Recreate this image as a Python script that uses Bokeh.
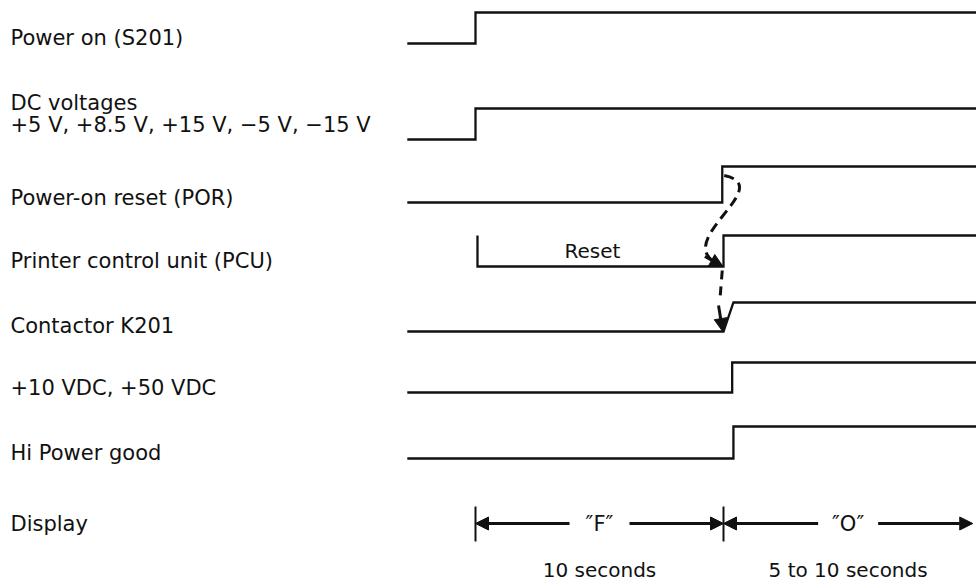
from bokeh.plotting import figure
from bokeh.models import Range1d, Arrow, NormalHead, ColumnDataSource
from bokeh.core.properties import value
from bokeh.embed import file_html
from bokeh.resources import INLINE

# ---------------- data (time in seconds, power switched on at t = 0) -------------
signals = ["Power on (S201)", "DC voltages", "Power-on reset (POR)",
           "Printer control unit (PCU)", "Contactor K201",
           "+10 VDC, +50 VDC", "Hi Power good"]
signal_sublabel = ["", "+5 V, +8.5 V, +15 V, \u22125 V, \u221215 V", "", "", "", "", ""]
start_time = [-2.75, -2.75, -2.75, 0.08, -2.75, -2.75, -2.75]
start_level = [0, 0, 0, 1, 0, 0, 0]
rise_time = [0.0, 0.0, 9.95, 10.0, 10.0, 10.35, 10.4]
rise_duration = [0.0, 0.0, 0.0, 0.0, 0.4, 0.0, 0.0]
end_time = 20.5

reset_label = "Reset"
display_label = "Display"
display_codes = ["\u2033F\u2033", "\u2033O\u2033"]
display_start = [0.0, 10.0]
display_end = [10.0, 20.05]
display_duration = ["10 seconds", "5 to 10 seconds"]

# ---------------- layout (pixels from the picture's top-left) ----------------------
W, H = 976, 581
T0_PX = 475.0          # x of t = 0
PX_PER_S = 24.8        # pixels per second
def t_of(px):
    return (px - T0_PX) / PX_PER_S

TDY = -8               # text placement correction
row_low = [43, 139, 202, 266, 331, 392, 458]
row_high = [12, 108, 166, 235, 302, 362, 426]
label_base = [45 + TDY, 110 + TDY, 205 + TDY, 268 + TDY, 333 + TDY, 395 + TDY, 460 + TDY]
sub_base = 132 + TDY
display_y = 523
tick_top, tick_bot = 506, 541
dur_base = 577 + TDY
FONT = value("DejaVu Sans")
INK = "#111111"

p = figure(width=W, height=H, output_backend="svg", toolbar_location=None,
           x_range=Range1d(t_of(0), t_of(W)), y_range=Range1d(H, 0),
           min_border=0, tools="")
p.axis.visible = False
p.grid.visible = False
p.outline_line_color = None
p.background_fill_color = "white"
p.border_fill_color = "white"

# ---------------- signal traces ----------------------------------------------------
xs, ys = [], []
for i in range(len(signals)):
    lo, hi = row_low[i], row_high[i]
    if start_level[i] == 1:
        x = [start_time[i], start_time[i]]
        y = [hi, lo]
    else:
        x = [start_time[i]]
        y = [lo]
    x += [rise_time[i], rise_time[i] + rise_duration[i], end_time]
    y += [lo, hi, hi]
    xs.append(x)
    ys.append(y)
p.multi_line(xs=xs, ys=ys, line_color=INK, line_width=2.3, line_join="miter")

# ---------------- labels ------------------------------------------------------------
lab = ColumnDataSource(dict(x=[t_of(10)] * len(signals), y=label_base, text=signals))
p.text(x="x", y="y", text="text", source=lab, text_font=FONT, text_font_size="21px",
       text_color=INK, text_baseline="alphabetic", text_align="left")
p.text(x=[t_of(10)], y=[sub_base], text=[signal_sublabel[1]], text_font=FONT,
       text_font_size="21px", text_color=INK, text_baseline="alphabetic", text_align="left")
p.text(x=[t_of(10)], y=[display_y + 8 + TDY], text=[display_label], text_font=FONT,
       text_font_size="21px", text_color=INK, text_baseline="alphabetic", text_align="left")
p.text(x=[t_of(592)], y=[258 + TDY], text=[reset_label],
       text_font=FONT, text_font_size="20px", text_color=INK,
       text_baseline="alphabetic", text_align="center")

# ---------------- causal dashed arrows ---------------------------------------------
t_por = rise_time[2]
t_pcu = rise_time[3]
p.bezier(x0=[t_por + 2 / PX_PER_S], y0=[175],
         x1=[t_pcu - 0.25], y1=[row_low[3] - 3],
         cx0=[t_por + 55 / PX_PER_S], cy0=[186],
         cx1=[t_pcu - 52 / PX_PER_S], cy1=[240],
         line_color=INK, line_width=3, line_dash="10 6")
head = dict(size=13, fill_color=INK, line_color=INK)
p.add_layout(Arrow(end=NormalHead(**head), x_start=t_pcu - 0.75, y_start=row_low[3] - 10,
                   x_end=t_pcu - 0.02, y_end=row_low[3], line_color=INK, line_width=3))
t_k = rise_time[4]
p.segment(x0=[t_k - 0.05], y0=[row_low[3] + 4], x1=[t_k - 0.15], y1=[row_low[4] - 30],
          line_color=INK, line_width=3, line_dash="9 7")
p.add_layout(Arrow(end=NormalHead(**head), x_start=t_k - 0.2, y_start=row_low[4] - 26,
                   x_end=t_k - 0.03, y_end=row_low[4], line_color=INK, line_width=3))

# ---------------- display phases ---------------------------------------------------
gap = 30 / PX_PER_S
for s, e, code, dur in zip(display_start, display_end, display_codes, display_duration):
    mid = (s + e) / 2
    p.add_layout(Arrow(end=NormalHead(**head), x_start=mid - gap, y_start=display_y,
                       x_end=s, y_end=display_y, line_color=INK, line_width=3))
    p.add_layout(Arrow(end=NormalHead(**head), x_start=mid + gap, y_start=display_y,
                       x_end=e, y_end=display_y, line_color=INK, line_width=3))
    p.text(x=[mid], y=[display_y + 8 + TDY], text=[code], text_font=FONT, text_font_size="21px",
           text_color=INK, text_baseline="alphabetic", text_align="center")
    p.text(x=[mid], y=[dur_base], text=[dur], text_font=FONT, text_font_size="20px",
           text_color=INK, text_baseline="alphabetic", text_align="center")
p.segment(x0=display_start, y0=[tick_top] * 2, x1=display_start, y1=[tick_bot] * 2,
          line_color=INK, line_width=2)

open("out.html", "w").write(file_html(p, INLINE))
